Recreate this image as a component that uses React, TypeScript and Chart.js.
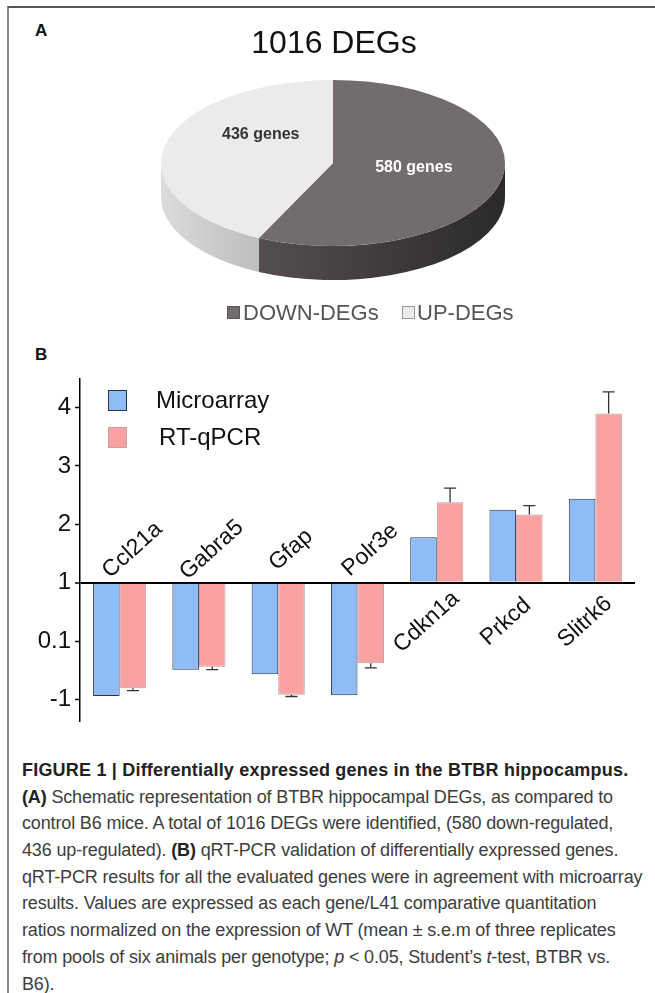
import React, { useEffect, useRef } from 'react';
import { Chart, registerables } from 'chart.js';

Chart.register(...registerables);

// ---------- DATA ----------
const pieTitle = '1016 DEGs';
const pieLabels = ['DOWN-DEGs', 'UP-DEGs'];
const pieValues = [580, 436];
const pieSliceText = ['580 genes', '436 genes'];

const genes = ['Ccl21a', 'Gabra5', 'Gfap', 'Polr3e', 'Cdkn1a', 'Prkcd', 'Slitrk6'];
const seriesNames = ['Microarray', 'RT-qPCR'];
// values expressed on the chart's axis scale (tick "0.1" sits at position 0)
const microarray = [-0.94, -0.49, -0.57, -0.93, 1.78, 2.25, 2.44];
const rtqpcr = [-0.81, -0.44, -0.92, -0.38, 2.38, 2.17, 3.9];
const rtqpcrErr = [0.04, 0.05, 0.03, 0.08, 0.24, 0.15, 0.37];
const yTickValues = [-1, 0, 1, 2, 3, 4];
const yTickLabels = ['-1', '0.1', '1', '2', '3', '4'];
const baseValue = 1;

// ---------- STYLE ----------
const FONT = '"Liberation Sans", Arial, Helvetica, sans-serif';
const BLUE = 'rgb(143,188,247)';
const PINK = 'rgb(250,161,161)';
const PIE_TOP = ['#726c6d', '#ebebeb'];
const PIE_SIDE = [
  ['#544e4f', '#2b292b'],
  ['#dcdcdc', '#bdbdbd'],
];
const SQUASH = 83 / 172;
const DEPTH = 34;
const PIE_LABEL_POS = [
  [0.47, 0.06],
  [-0.42, -0.34],
];
const PIE_LABEL_COLOR = ['#ffffff', '#333333'];
const LABEL_ANGLE = (-42 * Math.PI) / 180;

const pie3d = {
  id: 'pie3d',
  beforeDatasetsDraw(chart: any) {
    const ctx = chart.ctx;
    const arcs = chart.getDatasetMeta(0).data;
    chart.$squashed = false;
    if (!arcs.length) return;
    const { x: cx, y: cy, outerRadius: r } = arcs[0].getProps(['x', 'y', 'outerRadius'], true);
    const ry = r * SQUASH;
    arcs.forEach((arc: any, i: number) => {
      const { startAngle, endAngle } = arc.getProps(['startAngle', 'endAngle'], true);
      const ranges = [
        [0, Math.PI],
        [2 * Math.PI, 3 * Math.PI],
        [-2 * Math.PI, -Math.PI],
      ];
      ranges.forEach(([lo, hi]) => {
        const a0 = Math.max(startAngle, lo);
        const a1 = Math.min(endAngle, hi);
        if (a1 <= a0) return;
        const xa = cx + r * Math.cos(a0);
        const xb = cx + r * Math.cos(a1);
        const g = ctx.createLinearGradient(Math.min(xa, xb), 0, Math.max(xa, xb), 0);
        g.addColorStop(0, PIE_SIDE[i][0]);
        g.addColorStop(1, PIE_SIDE[i][1]);
        ctx.save();
        ctx.fillStyle = g;
        ctx.beginPath();
        ctx.ellipse(cx, cy, r, ry, 0, a0, a1);
        ctx.ellipse(cx, cy + DEPTH, r, ry, 0, a1, a0, true);
        ctx.closePath();
        ctx.fill();
        ctx.restore();
      });
    });
    ctx.save();
    ctx.translate(cx, cy);
    ctx.scale(1, SQUASH);
    ctx.translate(-cx, -cy);
    chart.$squashed = true;
  },
  afterDatasetsDraw(chart: any) {
    if (chart.$squashed) chart.ctx.restore();
    chart.$squashed = false;
  },
  afterDraw(chart: any) {
    const ctx = chart.ctx;
    const arcs = chart.getDatasetMeta(0).data;
    if (!arcs.length) return;
    const { x: cx, y: cy, outerRadius: r } = arcs[0].getProps(['x', 'y', 'outerRadius'], true);
    const ry = r * SQUASH;
    ctx.save();
    // slice labels
    ctx.font = `bold 16px ${FONT}`;
    ctx.textAlign = 'center';
    ctx.textBaseline = 'middle';
    pieSliceText.forEach((t, i) => {
      ctx.fillStyle = PIE_LABEL_COLOR[i];
      ctx.fillText(t, cx + PIE_LABEL_POS[i][0] * r, cy + PIE_LABEL_POS[i][1] * ry);
    });
    // title
    ctx.font = `32px ${FONT}`;
    ctx.fillStyle = '#111';
    ctx.textBaseline = 'alphabetic';
    ctx.fillText(pieTitle, cx + 1, 53);
    // legend
    const boxes = [
      { x: 227, text: 243 },
      { x: 402, text: 417 },
    ];
    ctx.font = `22px ${FONT}`;
    ctx.textAlign = 'left';
    pieLabels.forEach((lab, i) => {
      ctx.fillStyle = PIE_TOP[i];
      ctx.fillRect(boxes[i].x, 306, 13, 13);
      ctx.strokeStyle = i === 0 ? '#555' : '#999';
      ctx.lineWidth = 1;
      ctx.strokeRect(boxes[i].x + 0.5, 306.5, 12, 12);
      ctx.fillStyle = '#555';
      ctx.fillText(lab, boxes[i].text, 320);
    });
    ctx.restore();
  },
};

const errorBars = {
  id: 'errorBars',
  afterDatasetsDraw(chart: any) {
    const ctx = chart.ctx;
    const ys = chart.scales.y;
    const meta = chart.getDatasetMeta(1);
    ctx.save();
    ctx.strokeStyle = '#333';
    ctx.lineWidth = 1.3;
    meta.data.forEach((bar: any, i: number) => {
      const v = rtqpcr[i];
      const dir = v >= baseValue ? 1 : -1;
      const yEnd = ys.getPixelForValue(v + dir * rtqpcrErr[i]);
      ctx.beginPath();
      ctx.moveTo(bar.x, bar.y);
      ctx.lineTo(bar.x, yEnd);
      ctx.moveTo(bar.x - 6, yEnd);
      ctx.lineTo(bar.x + 6, yEnd);
      ctx.stroke();
    });
    ctx.restore();
  },
};

const geneLabels = {
  id: 'geneLabels',
  afterDraw(chart: any) {
    const ctx = chart.ctx;
    const xs = chart.scales.x;
    const ys = chart.scales.y;
    const y1 = ys.getPixelForValue(baseValue);
    ctx.save();
    ctx.font = `23px ${FONT}`;
    ctx.fillStyle = '#111';
    ctx.textAlign = 'center';
    ctx.textBaseline = 'alphabetic';
    genes.forEach((g, i) => {
      const x = xs.getPixelForValue(i);
      const down = microarray[i] < baseValue;
      const mx = down ? x + 17 : x - 6;
      const my = down ? y1 - 28 : y1 + 44;
      ctx.save();
      ctx.translate(mx, my);
      ctx.rotate(LABEL_ANGLE);
      ctx.fillText(g, 0, 0);
      ctx.restore();
    });
    // legend
    const items = [
      { fill: BLUE, stroke: '#2a3442', y: 30, tx: 156 },
      { fill: PINK, stroke: '#c9a0a0', y: 67, tx: 159 },
    ];
    ctx.font = `24px ${FONT}`;
    ctx.textAlign = 'left';
    ctx.textBaseline = 'middle';
    items.forEach((it, i) => {
      ctx.fillStyle = it.fill;
      ctx.fillRect(108, it.y, 19, 21);
      ctx.strokeStyle = it.stroke;
      ctx.lineWidth = 1;
      ctx.strokeRect(108.5, it.y + 0.5, 18, 20);
      ctx.fillStyle = '#111';
      ctx.fillText(seriesNames[i], it.tx, it.y + 11);
    });
    ctx.restore();
  },
};

function PieChart() {
  const ref = useRef<HTMLCanvasElement>(null);
  useEffect(() => {
    const chart = new Chart(ref.current!, {
      type: 'pie',
      data: {
        labels: pieLabels,
        datasets: [
          {
            data: pieValues,
            backgroundColor: PIE_TOP,
            borderWidth: 0,
          },
        ],
      },
      options: {
        responsive: false,
        animation: false,
        radius: 172,
        layout: { padding: { left: 11, top: 0, right: 0, bottom: 14 } },
        plugins: { legend: { display: false }, tooltip: { enabled: false }, title: { display: false } },
      } as any,
      plugins: [pie3d],
    });
    return () => chart.destroy();
  }, []);
  return (
    <canvas
      ref={ref}
      width={655}
      height={340}
      style={{ position: 'absolute', left: 0, top: 0, width: 655, height: 340 }}
    />
  );
}

function BarChart() {
  const ref = useRef<HTMLCanvasElement>(null);
  useEffect(() => {
    const chart = new Chart(ref.current!, {
      type: 'bar',
      data: {
        labels: genes,
        datasets: [
          {
            label: seriesNames[0],
            data: microarray,
            base: baseValue,
            backgroundColor: BLUE,
            borderColor: '#2a3442',
            borderWidth: 1,
          },
          {
            label: seriesNames[1],
            data: rtqpcr,
            base: baseValue,
            backgroundColor: PINK,
            borderColor: '#b0a4a4',
            borderWidth: 1,
          },
        ],
      },
      options: {
        responsive: false,
        animation: false,
        layout: { padding: { top: 12, bottom: 12, left: 0, right: 20 } },
        datasets: { bar: { categoryPercentage: 0.67, barPercentage: 1 } },
        plugins: { legend: { display: false }, tooltip: { enabled: false }, title: { display: false } },
        scales: {
          x: { display: false, offset: true },
          y: {
            min: -1.38,
            max: 4.5,
            z: 1,
            afterFit: (s: any) => {
              s.width = 80;
            },
            afterBuildTicks: (s: any) => {
              s.ticks = yTickValues.map((v) => ({ value: v }));
            },
            ticks: {
              autoSkip: false,
              padding: 4,
              color: '#111',
              font: { family: FONT, size: 24 },
              callback: (v: any) => yTickLabels[yTickValues.indexOf(Number(v))],
            },
            grid: {
              drawOnChartArea: true,
              drawTicks: true,
              tickLength: 5,
              tickWidth: 1.5,
              tickColor: '#000',
              color: (c: any) => (c.tick && c.tick.value === baseValue ? '#000' : 'rgba(0,0,0,0)'),
              lineWidth: (c: any) => (c.tick && c.tick.value === baseValue ? 2 : 1),
            },
            border: { display: true, color: '#000', width: 1.5 },
          },
        },
      } as any,
      plugins: [errorBars, geneLabels],
    });
    return () => chart.destroy();
  }, []);
  return (
    <canvas
      ref={ref}
      width={655}
      height={380}
      style={{ position: 'absolute', left: 0, top: 360, width: 655, height: 380 }}
    />
  );
}

const lineStyle: React.CSSProperties = { whiteSpace: 'nowrap', height: 26.7 };

export default function App() {
  return (
    <div
      style={{
        position: 'absolute',
        left: 0,
        top: 0,
        width: 655,
        height: 993,
        overflow: 'hidden',
        background: '#fff',
        fontFamily: FONT,
      }}
    >
      <div
        style={{
          position: 'absolute',
          left: 7,
          top: 6,
          width: 660,
          height: 1000,
          borderTop: '2px solid #555',
          borderLeft: '2px solid #8a8a8a',
          boxSizing: 'border-box',
        }}
      />
      <div style={{ position: 'absolute', left: 35, top: 22, fontWeight: 'bold', fontSize: 17, lineHeight: 1, color: '#111' }}>A</div>
      <div style={{ position: 'absolute', left: 35, top: 346, fontWeight: 'bold', fontSize: 17, lineHeight: 1, color: '#111' }}>B</div>
      <PieChart />
      <BarChart />
      <div
        style={{
          position: 'absolute',
          left: 22,
          top: 757,
          fontSize: 18,
          lineHeight: '26.7px',
          color: '#3d3d3d',
          letterSpacing: '-0.15px',
        }}
      >
        <div style={{ ...lineStyle, fontWeight: 'bold', color: '#222', letterSpacing: '0.2px' }}>
          FIGURE 1 | Differentially expressed genes in the BTBR hippocampus.
        </div>
        <div style={lineStyle}>
          <b style={{ color: '#222' }}>(A)</b> Schematic representation of BTBR hippocampal DEGs, as compared to
        </div>
        <div style={lineStyle}>control B6 mice. A total of 1016 DEGs were identified, (580 down-regulated,</div>
        <div style={lineStyle}>
          436 up-regulated). <b style={{ color: '#222' }}>(B)</b> qRT-PCR validation of differentially expressed genes.
        </div>
        <div style={lineStyle}>qRT-PCR results for all the evaluated genes were in agreement with microarray</div>
        <div style={lineStyle}>results. Values are expressed as each gene/L41 comparative quantitation</div>
        <div style={lineStyle}>ratios normalized on the expression of WT (mean ± s.e.m of three replicates</div>
        <div style={lineStyle}>
          from pools of six animals per genotype; <i>p</i> &lt; 0.05, Student’s <i>t</i>-test, BTBR vs.
        </div>
        <div style={lineStyle}>B6).</div>
      </div>
    </div>
  );
}
